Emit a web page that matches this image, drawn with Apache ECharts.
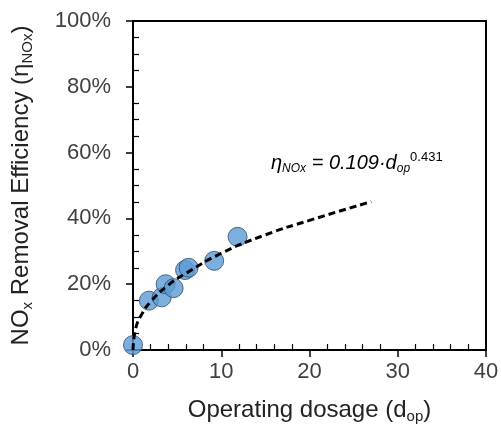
<!DOCTYPE html>
<html>
<head>
<meta charset="utf-8">
<script src="https://cdn.jsdelivr.net/npm/echarts@6/dist/echarts.min.js"></script>
<style>
  html, body { margin: 0; padding: 0; background: #fff; }
  #chart { width: 501px; height: 426px; }
</style>
</head>
<body>
<div id="chart"></div>
<script>
// measured points (dosage, efficiency %)
var dosage = [0, 1.8, 3.25, 3.7, 4.6, 5.9, 6.3, 9.2, 11.85]
var efficiency = [1.5, 15.0, 16.0, 20.0, 18.8, 24.3, 25.0, 27.1, 34.4]

// dashed fit line
var fitX = [0, 0.3, 1, 2, 4, 6, 10, 15, 20, 27]
var fitY = [0, 6.5, 10.9, 14.7, 19.7, 23.3, 29.4, 35.0, 39.4, 45.1]

var xTicks = [0, 10, 20, 30, 40]
var yTicks = [0, 20, 40, 60, 80, 100]

var font = 'Liberation Sans, Arial, sans-serif'
var chart = echarts.init(document.getElementById('chart'))

var scatterData = dosage.map(function (d, i) { return [d, efficiency[i]] })
var fitData = fitX.map(function (d, i) { return [d, fitY[i]] })

var baseX = {
  type: 'value',
  min: xTicks[0],
  max: xTicks[xTicks.length - 1],
  interval: 10,
  splitLine: { show: false }
}
var baseY = {
  type: 'value',
  min: yTicks[0],
  max: yTicks[yTicks.length - 1],
  interval: 20,
  splitLine: { show: false }
}
var nameRich = {
  a: { fontFamily: font, fontSize: 24, color: '#222', lineHeight: 28 },
  s: { fontFamily: font, fontSize: 15, color: '#222', lineHeight: 16, verticalAlign: 'bottom' }
}
var minorLine = { color: '#000', width: 1.2 }
var hiddenTick = { show: true, inside: true, length: 1, lineStyle: { opacity: 0 } }
var frameLine = { show: true, onZero: false, lineStyle: { color: '#000', width: 2 } }

chart.setOption({
  animation: false,
  grid: { left: 133, right: 15, top: 21, bottom: 76, containLabel: false, outerBoundsMode: 'none' },
  xAxis: [
    Object.assign({}, baseX, {
      position: 'bottom',
      name: '{a|Operating dosage (d}{s|op}{a|)}',
      nameLocation: 'middle',
      nameGap: 46,
      nameTextStyle: { rich: nameRich },
      axisLine: frameLine,
      axisTick: { show: true, length: 7, lineStyle: { color: '#000', width: 1.5 } },
      axisLabel: { fontFamily: font, fontSize: 22, color: '#404040', margin: 11 }
    }),
    // minor ticks pointing into the plot
    Object.assign({}, baseX, {
      position: 'bottom',
      axisLine: { show: false, onZero: false },
      axisTick: hiddenTick,
      minorTick: { show: true, splitNumber: 5, length: 6, lineStyle: minorLine },
      axisLabel: { show: false }
    }),
    // top frame
    Object.assign({}, baseX, {
      position: 'top',
      axisLine: frameLine,
      axisTick: { show: false },
      axisLabel: { show: false }
    })
  ],
  yAxis: [
    Object.assign({}, baseY, {
      position: 'left',
      name: '{a|NO}{s|x}{a| Removal Efficiency (η}{s|NOx}{a|)}',
      nameLocation: 'middle',
      nameRotate: 90,
      nameGap: 98,
      nameTextStyle: { rich: nameRich },
      axisLine: frameLine,
      axisTick: { show: true, length: 7, lineStyle: { color: '#000', width: 1.5 } },
      axisLabel: { fontFamily: font, fontSize: 22, color: '#404040', margin: 22, formatter: '{value}%' }
    }),
    Object.assign({}, baseY, {
      position: 'left',
      axisLine: { show: false, onZero: false },
      axisTick: hiddenTick,
      minorTick: { show: true, splitNumber: 4, length: 6, lineStyle: minorLine },
      axisLabel: { show: false }
    }),
    // right frame
    Object.assign({}, baseY, {
      position: 'right',
      axisLine: frameLine,
      axisTick: { show: false },
      axisLabel: { show: false }
    })
  ],
  graphic: [{
    type: 'text',
    left: 271,
    top: 151,
    style: {
      text: '{e|η}{s|NOx}{e| = 0.109·d}{s|op}{p|0.431}',
      rich: {
        e: { fontFamily: font, fontSize: 20, fontStyle: 'italic', fill: '#000', lineHeight: 24 },
        s: { fontFamily: font, fontSize: 12, fontStyle: 'italic', fill: '#000', lineHeight: 13, verticalAlign: 'bottom' },
        p: { fontFamily: font, fontSize: 13, fill: '#000', lineHeight: 13, verticalAlign: 'top' }
      }
    }
  }],
  series: [{
    type: 'scatter',
    data: scatterData,
    symbolSize: 19,
    itemStyle: { color: '#5B9BD5', borderColor: '#2E4A6B', borderWidth: 1 },
    z: 2
  }, {
    type: 'line',
    data: fitData,
    smooth: true,
    showSymbol: false,
    lineStyle: { color: '#000', width: 3, type: [7, 4] },
    z: 3
  }]
})
</script>
</body>
</html>
